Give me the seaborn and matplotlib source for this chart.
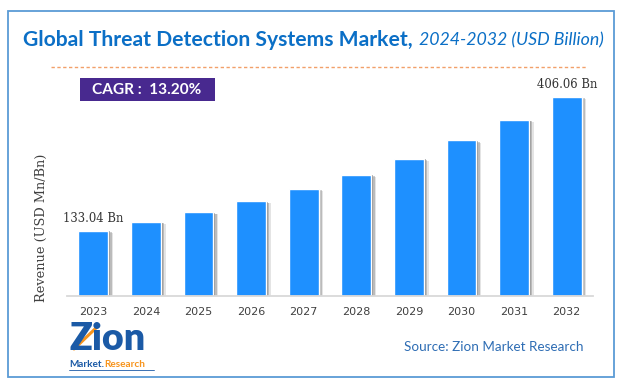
import matplotlib
matplotlib.use("Agg")
import matplotlib.pyplot as plt
import matplotlib.patheffects as pe
from matplotlib.patches import Rectangle
from matplotlib.lines import Line2D
import seaborn as sns
import pandas as pd

# ---------------- data ----------------
years = ["2023", "2024", "2025", "2026", "2027", "2028", "2029", "2030", "2031", "2032"]
revenue = [133.04, 150.6, 170.5, 193.0, 218.5, 247.3, 280.0, 316.9, 358.7, 406.06]
labelled_years = ["2023", "2032"]
labelled_texts = ["133.04 Bn", "406.06 Bn"]
title_main = "Global Threat Detection Systems Market,"
title_sub = "2024-2032 (USD Billion)"
cagr_text = "CAGR :  13.20%"
y_label = "Revenue (USD Mn/Bn)"
source_text = "Source: Zion Market Research"

# ---------------- figure ----------------
W, H = 623, 386
sns.set_style("white")
fig = plt.figure(figsize=(W / 100, H / 100), dpi=100)
fig.patch.set_facecolor("white")


def fx(px):
    return px / W


def fy(py):
    return 1 - py / H


renderer = fig.canvas.get_renderer()


def fit(t, target, dim="w"):
    bb = t.get_window_extent(renderer)
    cur = bb.width if dim == "w" else bb.height
    t.set_fontsize(t.get_fontsize() * target / cur)
    return t


# frame
fig.patches.append(Rectangle((fx(8.3), fy(377.3)), fx(614.3) - fx(8.3), fy(10.7) - fy(377.3),
                             transform=fig.transFigure, fill=False, edgecolor="#5B9BD5", lw=1.3))

# axes
ax = fig.add_axes([fx(67), fy(296), fx(593) - fx(67), fy(70) - fy(296)])
df = pd.DataFrame({"year": years, "revenue": revenue})
sns.barplot(data=df, x="year", y="revenue", color="#1E90FF", saturation=1,
            width=0.57, ax=ax, errorbar=None)
ax.set_xlim(-0.5, len(years) - 0.5)
ax.set_ylim(0, 460.5)
for p in ax.patches:
    p.set_path_effects([
        pe.SimplePatchShadow(offset=(3.4, -1.5), shadow_rgbFace="#888888", alpha=0.22),
        pe.SimplePatchShadow(offset=(2.4, -1.0), shadow_rgbFace="#666666", alpha=0.32),
        pe.SimplePatchShadow(offset=(1.3, -0.5), shadow_rgbFace="#555555", alpha=0.45),
        pe.Normal(),
    ])
ax.patch.set_alpha(0)
for s in ["top", "right", "left"]:
    ax.spines[s].set_visible(False)
ax.spines["bottom"].set_color("#D9D9D9")
ax.spines["bottom"].set_linewidth(1.3)
ax.set_xlabel("")
ax.set_ylabel("")
ax.set_yticks([])
ax.tick_params(axis="x", length=0, pad=8, labelsize=8, labelcolor="#404040")
for lab in ax.get_xticklabels():
    lab.set_fontfamily("DejaVu Sans")

# value labels
for yr, txt in zip(labelled_years, labelled_texts):
    i = years.index(yr)
    ax.annotate(txt, xy=(i, revenue[i]), xytext=(0, 8.8), textcoords="offset points",
                ha="center", va="center", fontsize=8.4, family="DejaVu Serif", color="#333333")

# y label
yl = fig.text(fx(41), fy(228), y_label, rotation=90, ha="center", va="center",
              family="DejaVu Serif", fontsize=9.4, color="#404040")
fit(yl, 148, "h")

# title
t1 = fig.text(fx(23), fy(45.5), title_main, ha="left", va="baseline", family="Lato",
              weight="bold", fontsize=16, color="#0B6FC6")
fit(t1, 391)
t2 = fig.text(fx(419), fy(45.5), title_sub, ha="left", va="baseline", family="Lato",
              style="italic", fontsize=13, color="#0B6FC6")
fit(t2, 185)

# dashed line
fig.lines.append(Line2D([fx(50.7), fx(586)], [fy(67.3), fy(67.3)], transform=fig.transFigure,
                        color="#F2A06A", lw=1.0, dashes=(2.4, 1.8)))

# CAGR box
fig.patches.append(Rectangle((fx(80), fy(100.7)), fx(215) - fx(80), fy(78.3) - fy(100.7),
                             transform=fig.transFigure, facecolor="#48298F", edgecolor="none"))
ct = fig.text(fx(146.5), fy(89.5), cagr_text, ha="center", va="center", family="Lato",
              weight="bold", fontsize=11, color="white")
fit(ct, 109)

# source
st = fig.text(fx(584), fy(347), source_text, ha="right", va="center", family="Lato",
              fontsize=11, color="#2E6DB4")
fit(st, 178)

# logo (approximation)
lz = fig.text(fx(70), fy(350), "Zion", ha="left", va="baseline", family="Lato",
              weight="heavy", fontsize=22, color="#1B5AA6")
fit(lz, 76)
fig.lines.append(Line2D([fx(74), fx(96)], [fy(349), fy(328)], transform=fig.transFigure,
                        color="#F7941D", lw=2.2))
m1 = fig.text(fx(69), fy(364.5), "Market.", ha="left", va="center", family="Lato",
              weight="bold", fontsize=7.2, color="#1B5AA6")
bb = m1.get_window_extent(renderer)
fig.text(fx(69 + bb.width), fy(364.5), "Research", ha="left", va="center", family="Lato",
         weight="bold", fontsize=7.2, color="#F7941D")
fig.lines.append(Line2D([fx(69), fx(154)], [fy(370), fy(370)], transform=fig.transFigure,
                        color="#1B5AA6", lw=0.6))

fig.savefig("out.png", dpi=100, facecolor="white")
